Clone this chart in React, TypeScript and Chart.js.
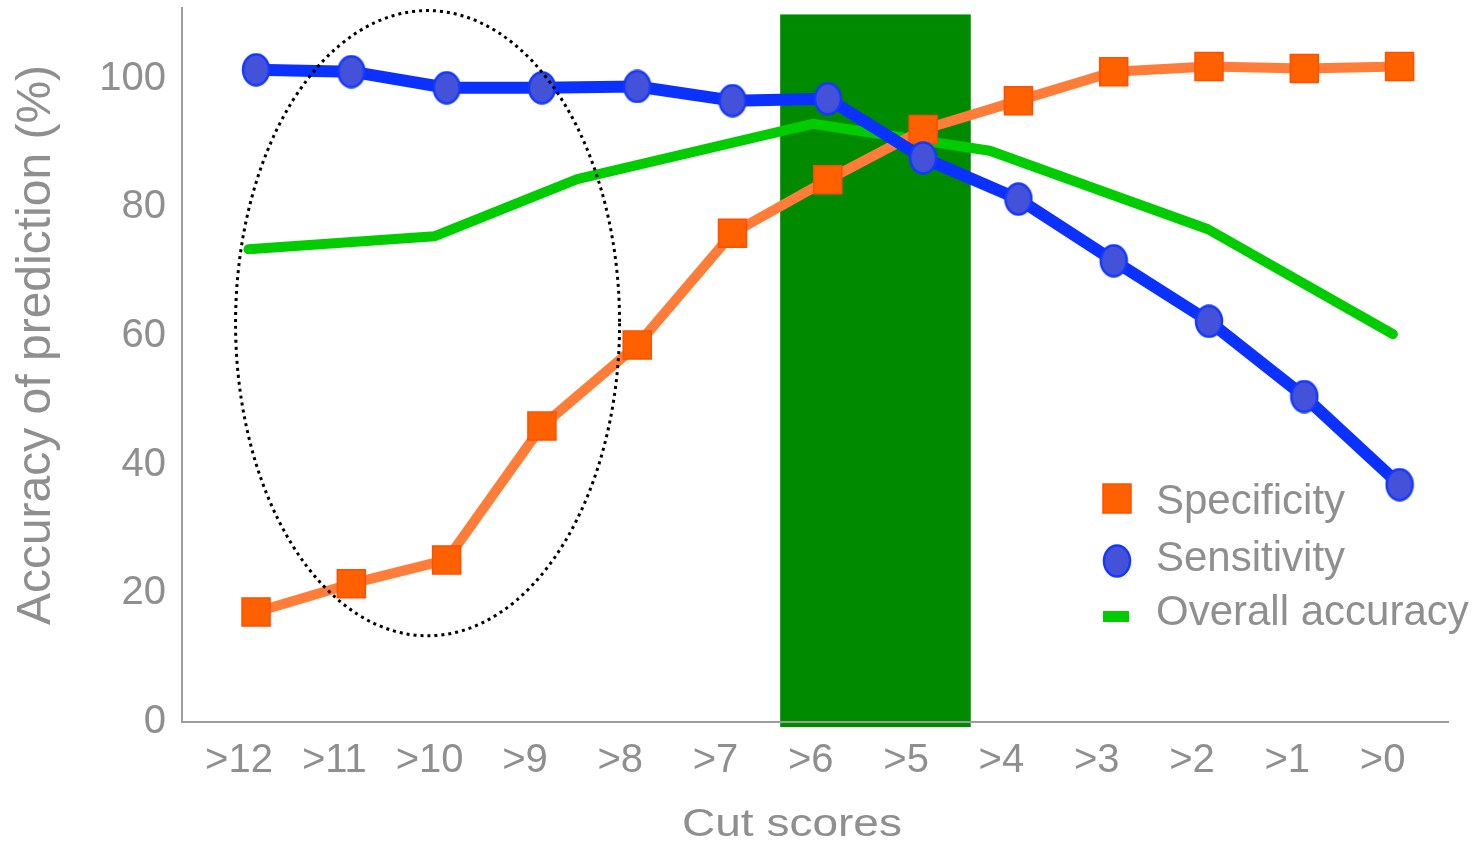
import { useEffect, useRef } from 'react';
import { Chart, registerables } from 'chart.js';

Chart.register(...registerables);

// Cut scores along the horizontal axis
const cutScores = ['>12', '>11', '>10', '>9', '>8', '>7', '>6', '>5', '>4', '>3', '>2', '>1', '>0'];

// Accuracy of prediction (%) for each cut score
const specificity = [17.1, 21.5, 25.2, 46.0, 58.6, 76.0, 84.3, 92.1, 96.6, 101.1, 101.9, 101.6, 101.9];
const sensitivity = [101.4, 101.1, 98.6, 98.6, 98.8, 96.6, 96.9, 87.7, 81.3, 71.7, 62.3, 50.6, 36.9];

// Overall accuracy curve: positions along the cut-score axis (category index) and values
const overallPositions = [-0.08, 1.87, 3.37, 5.84, 7.7, 9.99, 11.93];
const overallValues = [73.5, 75.5, 84.4, 93.0, 88.8, 76.6, 60.3];

const yTicks = [0, 20, 40, 60, 80, 100];

// Highlighted band of optimal cut scores
const optimalRange = ['>6', '>5'];
const optimalTop = 110;

// Dotted ellipse around the high cut scores (category index / percent units)
const ellipseCenter = { index: 1.8, value: 62 };
const ellipseRadius = { index: 2.015, value: 48.6 };

const FONT = '"Liberation Sans", Arial, Helvetica, sans-serif';
const TEXT = '#8f8f8f';
const AXIS = '#9d9d9d';

const ORANGE_LINE = '#ff7d38';
const ORANGE_FILL = '#ff6000';
const ORANGE_EDGE = '#ff4f00';
const BLUE_LINE = '#0a31ff';
const BLUE_FILL = '#4451d9';
const BLUE_EDGE = '#1538ff';
const GREEN_LINE = '#00cc00';
const BAND = '#008a00';

function makeEllipseMarker(): HTMLCanvasElement {
  const c = document.createElement('canvas');
  c.width = 30;
  c.height = 34;
  const g = c.getContext('2d')!;
  g.beginPath();
  g.ellipse(15, 17, 13, 15.5, 0, 0, Math.PI * 2);
  g.fillStyle = BLUE_FILL;
  g.fill();
  g.lineWidth = 2.5;
  g.strokeStyle = BLUE_EDGE;
  g.stroke();
  return c;
}

export default function App() {
  const canvasRef = useRef<HTMLCanvasElement | null>(null);

  useEffect(() => {
    const canvas = canvasRef.current;
    if (!canvas) return;
    const ellipseMarker = makeEllipseMarker();

    const decorations = {
      id: 'decorations',
      beforeDraw(chart: any) {
        const { ctx, scales, chartArea } = chart;
        const x = scales.x;
        const y = scales.y;
        const left = x.getPixelForValue(cutScores.indexOf(optimalRange[0]) - 0.5);
        const right = x.getPixelForValue(cutScores.indexOf(optimalRange[1]) + 0.5);
        const top = y.getPixelForValue(optimalTop);
        ctx.save();
        ctx.fillStyle = BAND;
        ctx.fillRect(left, top, right - left, chartArea.bottom + 5 - top);
        ctx.restore();
      },
      afterDatasetsDraw(chart: any) {
        const { ctx, scales } = chart;
        const x = scales.x;
        const y = scales.y;
        const cx = x.getPixelForValue(ellipseCenter.index);
        const cy = y.getPixelForValue(ellipseCenter.value);
        const rx = x.getPixelForValue(ellipseCenter.index + ellipseRadius.index) - cx;
        const ry = cy - y.getPixelForValue(ellipseCenter.value + ellipseRadius.value);
        ctx.save();
        ctx.beginPath();
        ctx.ellipse(cx, cy, rx, ry, 0, 0, Math.PI * 2);
        ctx.setLineDash([3, 4]);
        ctx.lineWidth = 3;
        ctx.strokeStyle = '#000';
        ctx.stroke();
        ctx.restore();
      },
      afterDraw(chart: any) {
        const { ctx } = chart;
        ctx.save();
        ctx.fillStyle = TEXT;

        // vertical axis title
        ctx.save();
        ctx.translate(50, 345);
        ctx.rotate(-Math.PI / 2);
        ctx.font = `48px ${FONT}`;
        ctx.textAlign = 'center';
        ctx.textBaseline = 'alphabetic';
        ctx.fillText('Accuracy of prediction (%)', 0, 0);
        ctx.restore();

        // horizontal axis title
        ctx.save();
        ctx.translate(792, 836);
        ctx.scale(1.18, 1);
        ctx.font = `39px ${FONT}`;
        ctx.textAlign = 'center';
        ctx.textBaseline = 'alphabetic';
        ctx.fillText('Cut scores', 0, 0);
        ctx.restore();

        // legend
        ctx.fillStyle = ORANGE_FILL;
        ctx.fillRect(1103, 484, 28, 29);
        ctx.strokeStyle = ORANGE_EDGE;
        ctx.lineWidth = 1.5;
        ctx.strokeRect(1103, 484, 28, 29);
        ctx.drawImage(ellipseMarker, 1117 - 15, 561 - 17);
        ctx.fillStyle = GREEN_LINE;
        ctx.fillRect(1103, 611, 26, 11);

        ctx.fillStyle = TEXT;
        ctx.font = `42px ${FONT}`;
        ctx.textAlign = 'left';
        ctx.textBaseline = 'alphabetic';
        ctx.fillText('Specificity', 1156, 514);
        ctx.fillText('Sensitivity', 1156, 571);
        ctx.fillText('Overall accuracy', 1156, 625);
        ctx.restore();
      },
    };

    const chart = new Chart(canvas, {
      type: 'line',
      data: {
        datasets: [
          {
            label: 'Sensitivity',
            data: cutScores.map((_, i) => ({ x: i, y: sensitivity[i] })),
            borderColor: BLUE_LINE,
            borderWidth: 12,
            borderCapStyle: 'round',
            borderJoinStyle: 'round',
            pointStyle: ellipseMarker,
            pointRadius: 15,
            order: 0,
          },
          {
            label: 'Specificity',
            data: cutScores.map((_, i) => ({ x: i, y: specificity[i] })),
            borderColor: ORANGE_LINE,
            borderWidth: 10,
            borderCapStyle: 'round',
            borderJoinStyle: 'round',
            pointStyle: 'rect',
            pointRadius: 19.8,
            pointBackgroundColor: ORANGE_FILL,
            pointBorderColor: ORANGE_EDGE,
            pointBorderWidth: 1.5,
            order: 1,
          },
          {
            label: 'Overall accuracy',
            data: overallPositions.map((p, i) => ({ x: p, y: overallValues[i] })),
            borderColor: GREEN_LINE,
            borderWidth: 10,
            borderCapStyle: 'round',
            borderJoinStyle: 'round',
            pointRadius: 0,
            order: 2,
          },
        ],
      },
      options: {
        animation: false,
        responsive: false,
        devicePixelRatio: 1,
        clip: false,
        events: [],
        layout: { autoPadding: false, padding: { top: 8, right: 32, left: 0, bottom: 0 } },
        plugins: {
          legend: { display: false },
          tooltip: { enabled: false },
        },
        scales: {
          x: {
            type: 'linear',
            min: -0.777,
            max: 12.508,
            grid: { display: false, drawTicks: false },
            border: { display: true, color: AXIS, width: 2 },
            afterBuildTicks: (scale: any) => {
              scale.ticks = cutScores.map((_, i) => ({ value: i }));
            },
            afterFit: (scale: any) => {
              scale.height = 124;
              scale.paddingLeft = 0;
              scale.paddingRight = 0;
            },
            ticks: {
              autoSkip: false,
              maxRotation: 0,
              minRotation: 0,
              padding: 15,
              labelOffset: -17,
              color: TEXT,
              font: { family: FONT, size: 40 },
              callback: (v: any) => cutScores[Math.round(Number(v))] ?? '',
            },
          },
          y: {
            type: 'linear',
            min: 0,
            max: 111,
            grid: { display: false, drawTicks: false },
            border: { display: true, color: AXIS, width: 2 },
            afterBuildTicks: (scale: any) => {
              scale.ticks = yTicks.map((v) => ({ value: v }));
            },
            afterFit: (scale: any) => {
              scale.width = 182;
              scale.paddingTop = 0;
              scale.paddingBottom = 0;
            },
            ticks: {
              padding: 16,
              color: TEXT,
              font: { family: FONT, size: 40 },
            },
          },
        },
      },
      plugins: [decorations],
    } as any);

    return () => chart.destroy();
  }, []);

  return (
    <div style={{ position: 'absolute', left: 0, top: 0, width: 1480, height: 846, background: '#fff' }}>
      <canvas ref={canvasRef} width={1480} height={846} />
    </div>
  );
}
